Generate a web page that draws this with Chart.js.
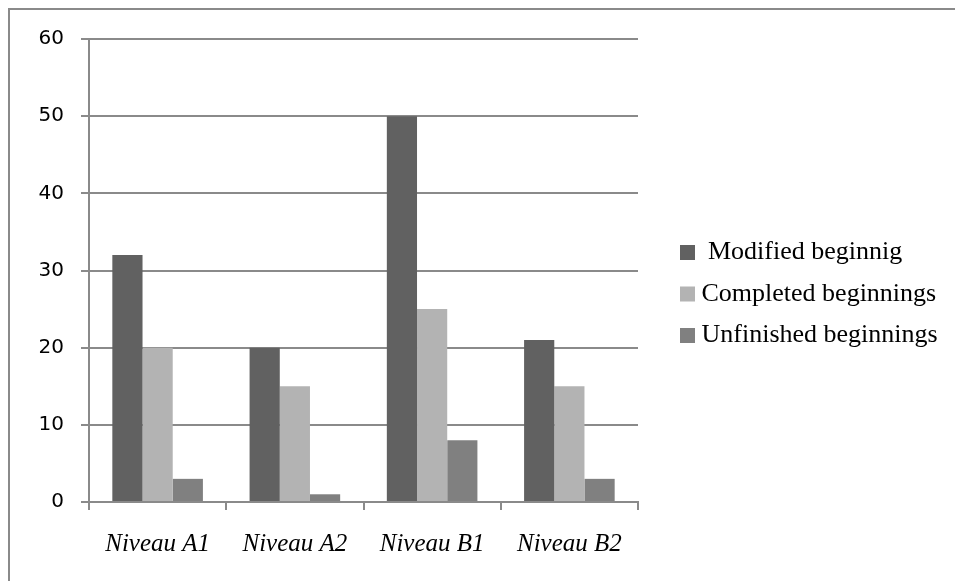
<!DOCTYPE html>
<html>
<head>
<meta charset="utf-8">
<script src="https://cdn.jsdelivr.net/npm/chart.js@4/dist/chart.umd.min.js"></script>
<style>
  html, body { margin: 0; padding: 0; background: #fff; }
  #wrap { position: relative; width: 955px; height: 581px; overflow: hidden; }
  #frame { position: absolute; left: 8px; top: 8px; width: 1000px; height: 1000px;
           border-left: 2px solid #8a8a8a; border-top: 2px solid #8a8a8a; }
  canvas { position: absolute; left: 0; top: 0; }
</style>
</head>
<body>
<div id="wrap">
  <div id="frame"></div>
  <canvas id="c" width="955" height="581"></canvas>
</div>
<script>
const categories = ['Niveau A1', 'Niveau A2', 'Niveau B1', 'Niveau B2'];
const seriesNames = [' Modified beginnig', 'Completed beginnings', 'Unfinished beginnings'];
const modifiedBeginnings = [32, 20, 50, 21];
const completedBeginnings = [20, 15, 25, 15];
const unfinishedBeginnings = [3, 1, 8, 3];
const yTicks = [0, 10, 20, 30, 40, 50, 60];

const colors = ['#616161', '#b3b3b3', '#808080'];
const gridColor = '#8a8a8a';

const legendShift = {
  id: 'legendShift',
  afterInit(chart) {
    const lg = chart.legend;
    if (!lg) return;
    const origFit = lg.fit.bind(lg);
    lg.fit = function () { origFit(); if (this.isHorizontal && !this.isHorizontal()) this.width = 317; };
    const origDraw = lg.draw.bind(lg);
    lg.draw = function () {
      const ctx = chart.ctx;
      ctx.save();
      ctx.translate(33, -16);
      origDraw();
      ctx.restore();
    };
  }
};

new Chart(document.getElementById('c'), {
  type: 'bar',
  data: {
    labels: categories,
    datasets: [
      { label: seriesNames[0], data: modifiedBeginnings, backgroundColor: colors[0], borderWidth: 0 },
      { label: seriesNames[1], data: completedBeginnings, backgroundColor: colors[1], borderWidth: 0 },
      { label: seriesNames[2], data: unfinishedBeginnings, backgroundColor: colors[2], borderWidth: 0 }
    ]
  },
  options: {
    responsive: false,
    animation: false,
    events: [],
    layout: { padding: { left: 0, right: 0, top: 39, bottom: 0 } },
    datasets: { bar: { categoryPercentage: 0.66, barPercentage: 1.0 } },
    scales: {
      x: {
        grid: { display: true, drawOnChartArea: false, drawTicks: true, tickLength: 8, color: gridColor, lineWidth: 2, offset: true },
        border: { display: true, color: gridColor, width: 2 },
        ticks: { color: '#000', padding: 19, font: { family: '"Liberation Serif", "Times New Roman", serif', size: 25, style: 'italic' }, maxRotation: 0 },
        afterFit(scale) { scale.height = 79; }
      },
      y: {
        min: 0, max: 60,
        afterBuildTicks(scale) { scale.ticks = yTicks.map(v => ({ value: v })); },
        grid: { display: true, drawTicks: true, tickLength: 8, color: gridColor, lineWidth: 2 },
        border: { display: true, color: gridColor, width: 2 },
        ticks: { color: '#000', padding: 17, font: { family: '"DejaVu Sans", sans-serif', size: 20 } },
        afterFit(scale) { scale.width = 89; }
      }
    },
    plugins: {
      title: { display: false },
      tooltip: { enabled: false },
      legend: {
        display: true,
        position: 'right',
        align: 'center',
        labels: {
          usePointStyle: true,
          pointStyle: 'rect',
          boxWidth: 2,
          boxHeight: 15,
          padding: 15.5,
          color: '#000',
          font: { family: '"Liberation Serif", "Times New Roman", serif', size: 26 }
        }
      }
    }
  },
  plugins: [legendShift]
});
</script>
</body>
</html>
